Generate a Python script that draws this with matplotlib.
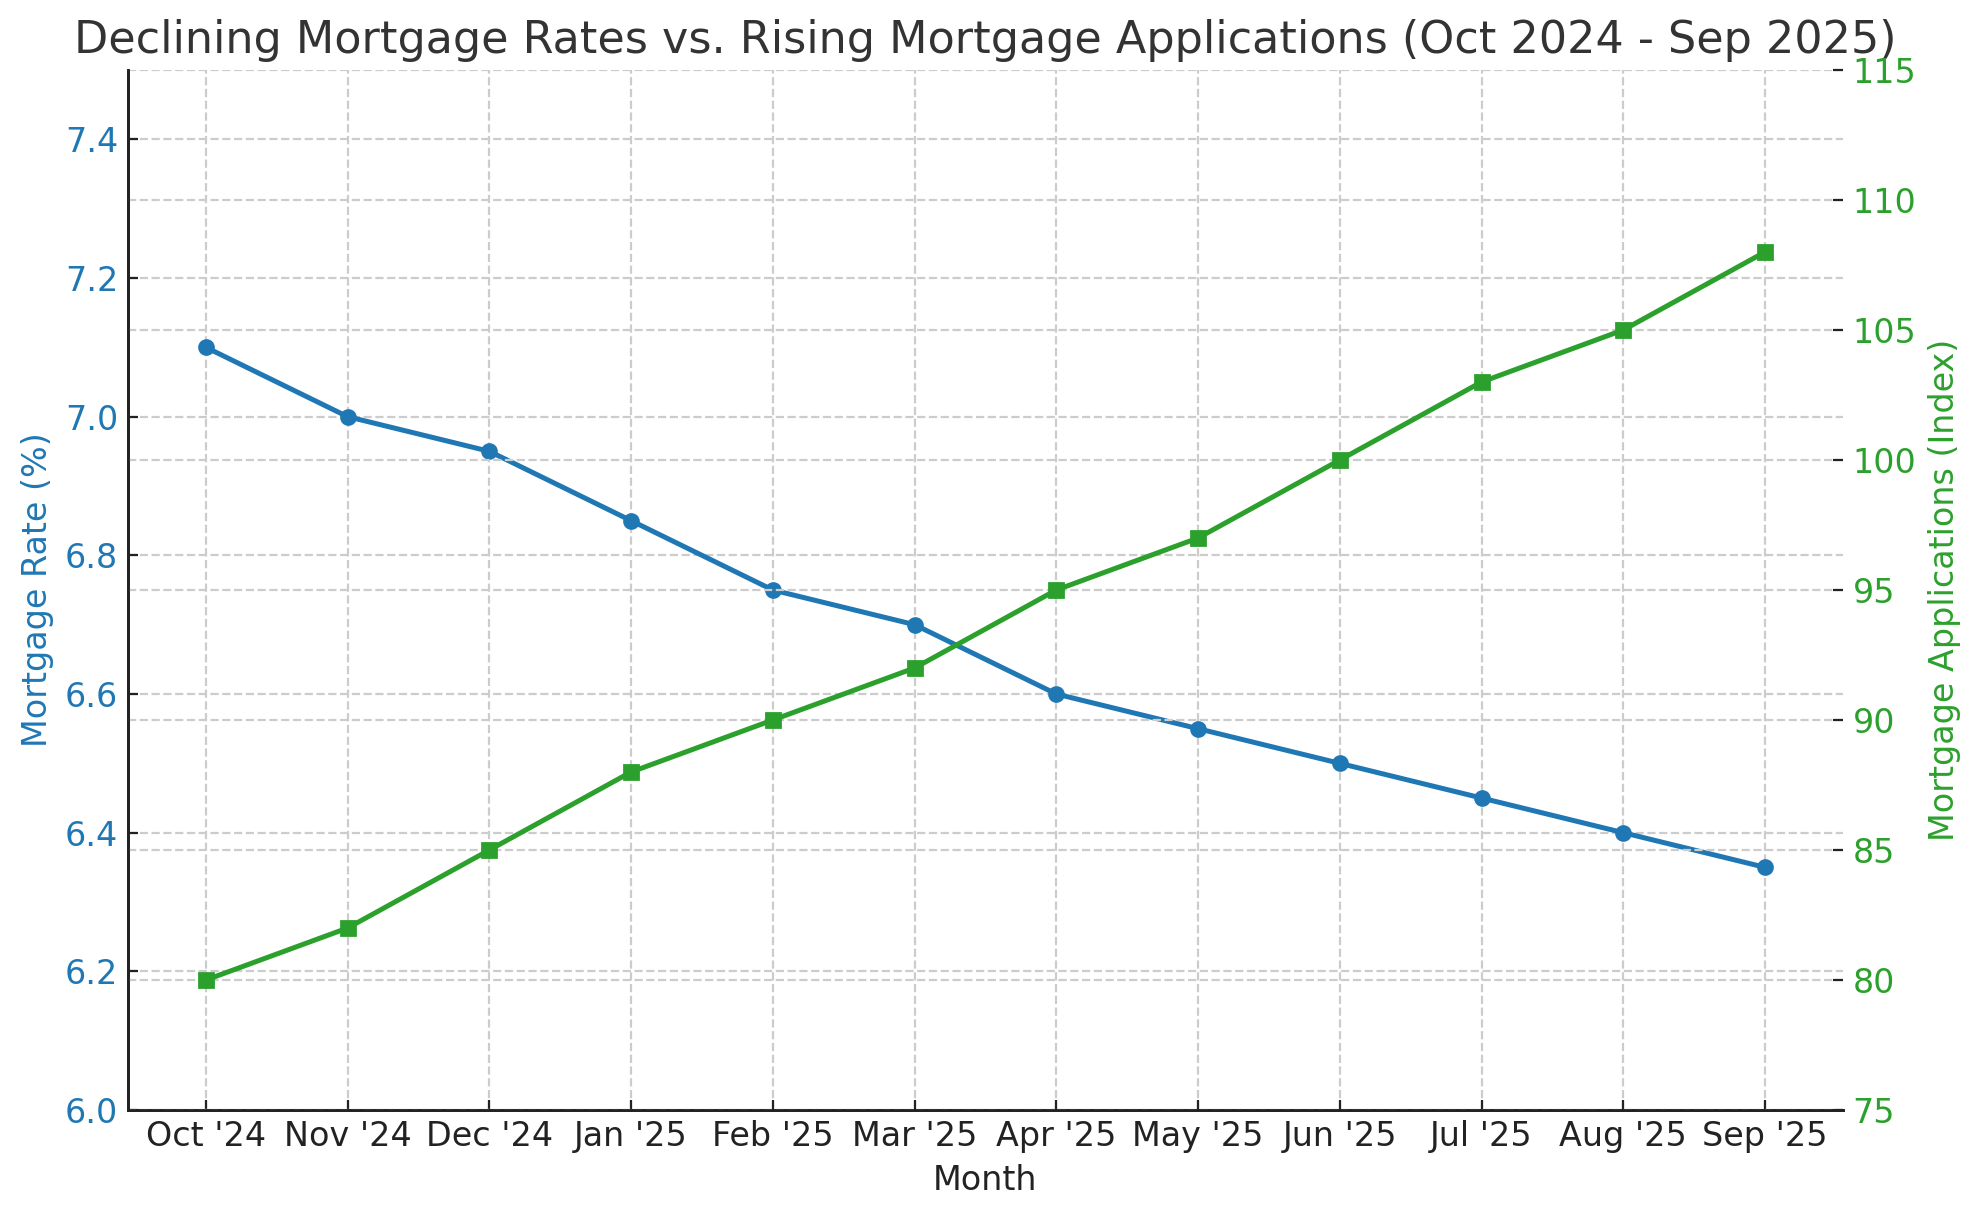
import matplotlib.pyplot as plt

months = ["Oct '24", "Nov '24", "Dec '24", "Jan '25", "Feb '25", "Mar '25",
          "Apr '25", "May '25", "Jun '25", "Jul '25", "Aug '25", "Sep '25"]
mortgage_rate = [7.10, 7.00, 6.95, 6.85, 6.75, 6.70, 6.60, 6.55, 6.50, 6.45, 6.40, 6.35]
applications = [80, 82, 85, 88, 90, 92, 95, 97, 100, 103, 105, 108]

blue = '#1f77b4'
green = '#2ca02c'
dark = '#222222'

fig, ax1 = plt.subplots(figsize=(9.9, 6.085), dpi=200)
fig.subplots_adjust(left=0.0646, right=0.9308, top=0.9425, bottom=0.0879)

x = list(range(len(months)))
ax1.plot(x, mortgage_rate, color=blue, marker='o', linewidth=1.8, markersize=5)
ax1.set_ylim(6.0, 7.5)
ax1.set_yticks([6.0, 6.2, 6.4, 6.6, 6.8, 7.0, 7.2, 7.4])
ax1.set_xticks(x)
ax1.set_xticklabels(months)
ax1.set_xlabel('Month', fontsize=12, color=dark)
ax1.set_ylabel('Mortgage Rate (%)', fontsize=12, color=blue)
ax1.tick_params(axis='y', labelcolor=blue, labelsize=12, direction='in', color=dark)
ax1.tick_params(axis='x', labelcolor=dark, labelsize=12, direction='in', color=dark)
ax1.grid(True, linestyle='--', color='#cccccc', linewidth=0.8)

ax2 = ax1.twinx()
ax2.plot(x, applications, color=green, marker='s', linewidth=1.8, markersize=5)
ax2.set_ylim(75, 115)
ax2.set_ylabel('Mortgage Applications (Index)', fontsize=12, color=green)
ax2.tick_params(axis='y', labelcolor=green, labelsize=12, direction='in', color=dark)
ax2.grid(True, axis='y', linestyle='--', color='#cccccc', linewidth=0.8)

for ax in (ax1, ax2):
    ax.spines['top'].set_visible(False)
    ax.spines['right'].set_visible(False)
    for side in ('left', 'bottom'):
        ax.spines[side].set_color(dark)
        ax.spines[side].set_linewidth(1.0)

ax1.set_title('Declining Mortgage Rates vs. Rising Mortgage Applications (Oct 2024 - Sep 2025)',
              fontsize=16, color='#333333')

fig.savefig('out.png', dpi=200)
